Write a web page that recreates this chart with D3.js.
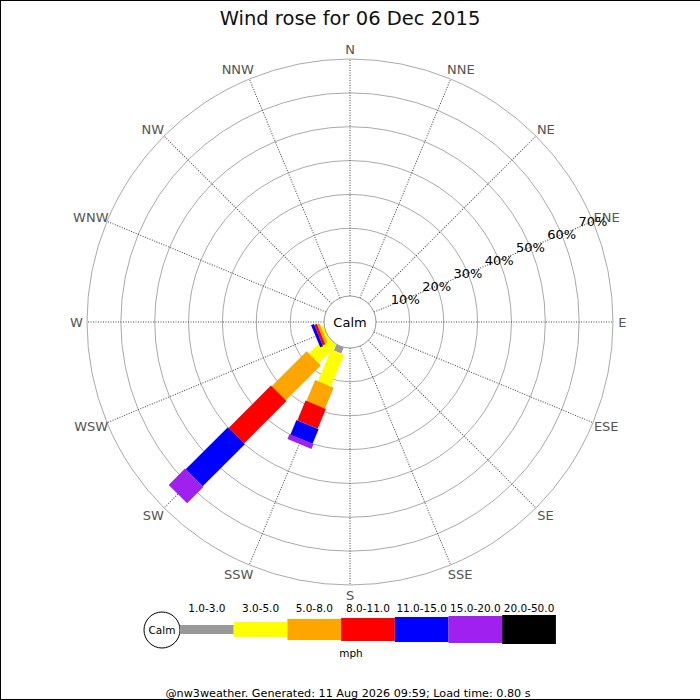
<!DOCTYPE html>
<html>
<head>
<meta charset="utf-8">
<script src="https://cdn.jsdelivr.net/npm/d3@7"></script>
<style>
  body { margin: 0; background: #fff; }
  svg text { font-family: "DejaVu Sans", sans-serif; }
</style>
</head>
<body>
<div id="chart"></div>
<script>
// compass points, clockwise from north
var directions = ["N", "NNE", "NE", "ENE", "E", "ESE", "SE", "SSE",
                  "S", "SSW", "SW", "WSW", "W", "WNW", "NW", "NNW"];
var speedRanges = ["1.0-3.0", "3.0-5.0", "5.0-8.0", "8.0-11.0", "11.0-15.0", "15.0-20.0", "20.0-50.0"];
var rangeColors = ["#999999", "#ffff00", "#ffa500", "#ff0000", "#0000ff", "#a020f0", "#000000"];
var radialTicks = [10, 20, 30, 40, 50, 60, 70];

// % of observations per speed range (only directions with wind)
var pctSSW = [1.9, 10.2, 6.7, 6.3, 4.7, 1.5, 0];
var pctSW  = [0, 7.5, 14.6, 17.7, 17.6, 6.8, 0];
var pctWSW = [0, 0.8, 0.8, 0.8, 0.9, 0, 0];
var pctByDir = { "SSW": pctSSW, "SW": pctSW, "WSW": pctWSW };

var title = "Wind rose for 06 Dec 2015";
var unitLabel = "mph";
var footer = "@nw3weather. Generated: 11 Aug 2026 09:59; Load time: 0.80 s";

var w = 700, h = 700;
var cx = 350, cy = 322;
var calmR = 26, outerR = 263;
var segWidths = [8, 14, 20, 22, 24, 26, 28];

var svg = d3.select("#chart").append("svg")
    .attr("width", w)
    .attr("height", h);

svg.append("rect").attr("width", w).attr("height", h).attr("fill", "#fff");
// frame lines
svg.append("line").attr("x1", 0).attr("y1", 0.5).attr("x2", w).attr("y2", 0.5).attr("stroke", "#000");
svg.append("line").attr("x1", 0.5).attr("y1", 0).attr("x2", 0.5).attr("y2", h).attr("stroke", "#000");
svg.append("line").attr("x1", 0).attr("y1", h - 0.5).attr("x2", w).attr("y2", h - 0.5).attr("stroke", "#000");

var r = d3.scaleLinear().domain([0, 70]).range([calmR, outerR]);
var angle = d3.scaleBand().domain(directions).range([0, 360]).paddingInner(0).align(0);
function bearing(d) { return angle(d); }

var plot = svg.append("g").attr("transform", "translate(" + cx + "," + cy + ")");

// rings
plot.selectAll(".ring")
    .data(radialTicks)
    .enter()
    .append("circle")
    .attr("class", "ring")
    .attr("r", function(d) { return r(d); })
    .attr("fill", "none")
    .attr("stroke", "#aaaaaa")
    .attr("stroke-width", 1);

// spokes
plot.selectAll(".spoke")
    .data(directions)
    .enter()
    .append("line")
    .attr("class", "spoke")
    .attr("transform", function(d) { return "rotate(" + bearing(d) + ")"; })
    .attr("x1", 0).attr("x2", 0)
    .attr("y1", -r(0))
    .attr("y2", -r(70))
    .attr("stroke", "#444")
    .attr("stroke-width", 1)
    .attr("stroke-dasharray", "1,1.5");

// direction labels
directions.forEach(function(d) {
    var a = bearing(d) * Math.PI / 180;
    var s = Math.sin(a), c = Math.cos(a);
    var t = plot.append("text")
        .attr("fill", "#555")
        .style("font-size", "13px")
        .attr("text-anchor", "middle")
        .attr("dy", "0.36em")
        .text(d);
    var hw = t.node().getComputedTextLength() / 2;
    var side = Math.abs(s) > 0.1 ? (s > 0 ? 1 : -1) : 0;
    t.attr("x", 270 * s + 0.55 * hw * side)
     .attr("y", -273 * c);
});

// bars
directions.forEach(function(d) {
    var vals = pctByDir[d];
    if (!vals) return;
    var g = plot.append("g").attr("transform", "rotate(" + bearing(d) + ")");
    var cum = 0;
    vals.forEach(function(v, i) {
        if (v <= 0) return;
        g.append("rect")
            .attr("x", -segWidths[i] / 2)
            .attr("width", segWidths[i])
            .attr("y", -r(cum + v))
            .attr("height", r(cum + v) - r(cum))
            .attr("fill", rangeColors[i]);
        cum += v;
    });
});

// calm circle
plot.append("circle")
    .attr("r", calmR)
    .attr("fill", "#fff")
    .attr("stroke", "#999")
    .attr("stroke-width", 1);
plot.append("text")
    .attr("text-anchor", "middle")
    .attr("dy", "0.36em")
    .style("font-size", "13px")
    .attr("fill", "#000")
    .text("Calm");

// radial tick labels along the ENE spoke
var tickA = bearing("ENE") * Math.PI / 180;
plot.selectAll(".rlabel")
    .data(radialTicks)
    .enter()
    .append("text")
    .attr("class", "rlabel")
    .attr("x", function(d) { return r(d) * Math.sin(tickA); })
    .attr("y", function(d) { return -r(d) * Math.cos(tickA); })
    .attr("text-anchor", "middle")
    .attr("dy", "0.36em")
    .style("font-size", "13px")
    .attr("fill", "#000")
    .text(function(d) { return d + "%"; });

// title
svg.append("text")
    .attr("x", w / 2)
    .attr("y", 25)
    .attr("text-anchor", "middle")
    .style("font-size", "19.5px")
    .attr("fill", "#111")
    .text(title);

// legend
var legY = 629.5, legX0 = 180, legBox = 53.7;
svg.append("circle")
    .attr("cx", 162).attr("cy", 630).attr("r", 18)
    .attr("fill", "#fff").attr("stroke", "#000");
svg.append("text")
    .attr("x", 162).attr("y", 630)
    .attr("text-anchor", "middle")
    .attr("dy", "0.36em")
    .style("font-size", "10.5px")
    .text("Calm");

var lx = d3.scaleBand().domain(speedRanges).range([legX0, legX0 + legBox * speedRanges.length]);
svg.selectAll(".legbox")
    .data(speedRanges)
    .enter()
    .append("rect")
    .attr("class", "legbox")
    .attr("x", function(d) { return lx(d); })
    .attr("width", lx.bandwidth())
    .attr("y", function(d, i) { return legY - (segWidths[i] + 1) / 2; })
    .attr("height", function(d, i) { return segWidths[i] + 1; })
    .attr("fill", function(d, i) { return rangeColors[i]; });

svg.selectAll(".leglabel")
    .data(speedRanges)
    .enter()
    .append("text")
    .attr("class", "leglabel")
    .attr("x", function(d) { return lx(d) + lx.bandwidth() / 2; })
    .attr("y", 611.5)
    .attr("text-anchor", "middle")
    .style("font-size", "10.5px")
    .attr("fill", "#000")
    .text(function(d) { return d; });

svg.append("text")
    .attr("x", 351)
    .attr("y", 657)
    .attr("text-anchor", "middle")
    .style("font-size", "10.5px")
    .text(unitLabel);

svg.append("text")
    .attr("x", 348)
    .attr("y", 697)
    .attr("text-anchor", "middle")
    .style("font-size", "11.2px")
    .text(footer);
</script>
</body>
</html>
